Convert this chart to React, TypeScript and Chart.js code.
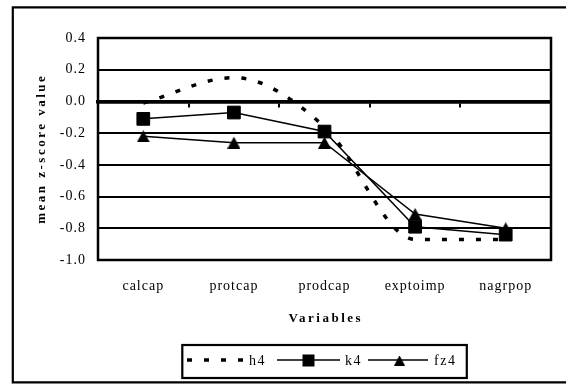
import React, { useEffect, useRef } from 'react';
import { Chart, registerables } from 'chart.js';

Chart.register(...registerables);

// ---- data ----
const categories = ['calcap', 'protcap', 'prodcap', 'exptoimp', 'nagrpop'];
const seriesNames = ['h4', 'k4', 'fz4'];
const h4Values = [-0.01, 0.15, -0.16, -0.87, -0.87];
const k4Values = [-0.11, -0.07, -0.19, -0.79, -0.84];
const fz4Values = [-0.22, -0.26, -0.26, -0.71, -0.8];
const yTicks = [-1.0, -0.8, -0.6, -0.4, -0.2, 0.0, 0.2, 0.4];
const yTickLabels = ['-1.0', '-0.8', '-0.6', '-0.4', '-0.2', '0.0', '0.2', '0.4'];
const xTitle = 'Variables';
const yTitle = 'mean z-score value';

const SERIF = '"Liberation Serif", "Times New Roman", serif';

function makeTriangle(w: number, h: number): HTMLCanvasElement {
  const c = document.createElement('canvas');
  c.width = w;
  c.height = h;
  const g = c.getContext('2d')!;
  g.fillStyle = '#000';
  g.beginPath();
  g.moveTo(w / 2, 0);
  g.lineTo(w, h);
  g.lineTo(0, h);
  g.closePath();
  g.fill();
  return c;
}

export default function App() {
  const ref = useRef<HTMLCanvasElement>(null);

  useEffect(() => {
    document.body.style.margin = '0';
    const canvas = ref.current;
    if (!canvas) return;
    const tri = makeTriangle(13, 12);

    const spacingPlugin = {
      id: 'spacing',
      beforeUpdate(c: any) {
        c.ctx.letterSpacing = '1px';
      },
      beforeDraw(c: any) {
        c.ctx.letterSpacing = '1px';
      },
    };

    const framePlugin = {
      id: 'frame',
      beforeDraw(c: any) {
        const ctx = c.ctx;
        ctx.save();
        ctx.strokeStyle = '#000';
        ctx.lineWidth = 2.2;
        ctx.beginPath();
        ctx.moveTo(568, 7.3);
        ctx.lineTo(12.8, 7.3);
        ctx.lineTo(12.8, 382.3);
        ctx.lineTo(568, 382.3);
        ctx.stroke();
        ctx.restore();
      },
      beforeDatasetsDraw(c: any) {
        const ctx = c.ctx;
        const a = c.chartArea;
        ctx.save();
        ctx.strokeStyle = '#000';
        ctx.lineWidth = 2.5;
        ctx.strokeRect(a.left, a.top, a.right - a.left, a.bottom - a.top);
        ctx.restore();
      },
      afterDraw(c: any) {
        const ctx = c.ctx;
        const a = c.chartArea;
        // axis titles
        ctx.save();
        ctx.fillStyle = '#000';
        ctx.letterSpacing = '2.5px';
        ctx.font = `bold 13px ${SERIF}`;
        ctx.textAlign = 'center';
        ctx.textBaseline = 'middle';
        ctx.fillText(xTitle, (a.left + a.right) / 2 + 1.25, 318.5);
        ctx.translate(42, (a.top + a.bottom) / 2 + 1);
        ctx.rotate(-Math.PI / 2);
        ctx.fillText(yTitle, 1.25, 0);
        ctx.restore();

        // legend
        const ds = c.data.datasets;
        ctx.save();
        ctx.strokeStyle = '#000';
        ctx.lineWidth = 2.2;
        ctx.strokeRect(182.3, 345, 284.5, 33);
        const ly = 360;
        // h4
        ctx.lineWidth = ds[0].borderWidth;
        ctx.setLineDash(ds[0].borderDash);
        ctx.lineCap = 'butt';
        ctx.beginPath();
        ctx.moveTo(187, ly);
        ctx.lineTo(244, ly);
        ctx.stroke();
        ctx.setLineDash([]);
        // k4
        ctx.lineWidth = ds[1].borderWidth;
        ctx.beginPath();
        ctx.moveTo(277, ly);
        ctx.lineTo(340, ly);
        ctx.stroke();
        ctx.fillStyle = '#000';
        ctx.fillRect(308.5 - 6, ly + 0.5 - 6, 12, 12);
        // fz4
        ctx.beginPath();
        ctx.moveTo(368, ly);
        ctx.lineTo(428, ly);
        ctx.stroke();
        ctx.drawImage(tri, 399.5 - 5.5, ly + 0.5 - 5, 11, 10);
        // texts
        ctx.letterSpacing = '1.5px';
        ctx.font = `14px ${SERIF}`;
        ctx.textAlign = 'left';
        ctx.textBaseline = 'middle';
        ctx.fillText(seriesNames[0], 249, 361);
        ctx.fillText(seriesNames[1], 345, 361);
        ctx.fillText(seriesNames[2], 434, 361);
        ctx.restore();
      },
    };

    const chart = new Chart(canvas, {
      type: 'line',
      data: {
        labels: categories,
        datasets: [
          {
            label: seriesNames[0],
            data: h4Values,
            xAxisID: 'x',
            yAxisID: 'y',
            borderColor: '#000',
            borderWidth: 3.5,
            borderDash: [5, 12],
            borderCapStyle: 'butt',
            pointRadius: 0,
            cubicInterpolationMode: 'monotone',
            fill: false,
          },
          {
            label: seriesNames[1],
            data: k4Values,
            xAxisID: 'x',
            yAxisID: 'y',
            borderColor: '#000',
            borderWidth: 1.5,
            tension: 0,
            pointStyle: 'rect',
            pointRadius: 9,
            pointBackgroundColor: '#000',
            pointBorderColor: '#000',
            pointBorderWidth: 1,
            fill: false,
          },
          {
            label: seriesNames[2],
            data: fz4Values,
            xAxisID: 'x',
            yAxisID: 'y',
            borderColor: '#000',
            borderWidth: 1.5,
            tension: 0,
            pointStyle: tri,
            pointRadius: 6,
            pointBackgroundColor: '#000',
            pointBorderColor: '#000',
            fill: false,
          },
        ],
      },
      options: {
        responsive: false,
        animation: false,
        layout: { padding: { left: 0, right: 15, top: 38, bottom: 84 } },
        plugins: {
          legend: { display: false },
          tooltip: { enabled: false },
          title: { display: false },
        },
        scales: {
          x: {
            type: 'category',
            position: 'bottom',
            offset: true,
            afterFit: (s: any) => {
              s.height = 40;
            },
            grid: { display: false, drawTicks: false },
            border: { display: false },
            ticks: {
              color: '#000',
              padding: 18,
              maxRotation: 0,
              autoSkip: false,
              font: { family: SERIF, size: 14 },
            },
          },
          x0: {
            type: 'category',
            position: { y: 0 } as any,
            offset: true,
            grid: {
              offset: true,
              drawOnChartArea: false,
              drawTicks: true,
              tickLength: 4,
              lineWidth: 2,
              color: '#000',
            },
            border: { display: true, width: 3.5, color: '#000' },
            ticks: { display: false },
          },
          y: {
            type: 'linear',
            position: 'left',
            min: -1.0,
            max: 0.4,
            afterFit: (s: any) => {
              s.width = 98;
            },
            afterBuildTicks: (s: any) => {
              s.ticks = yTicks.map((v) => ({ value: v }));
            },
            grid: {
              drawTicks: false,
              color: '#000',
              lineWidth: (ctx: any) =>
                ctx.tick && Math.abs(ctx.tick.value) < 1e-9 ? 3.5 : 2,
            },
            border: { display: false },
            ticks: {
              color: '#000',
              padding: 12,
              font: { family: SERIF, size: 14 },
              callback: (_v: any, i: number) => yTickLabels[i],
            },
          },
        },
      },
      plugins: [spacingPlugin, framePlugin],
    } as any);

    return () => {
      chart.destroy();
    };
  }, []);

  return (
    <canvas
      ref={ref}
      width={566}
      height={384}
      style={{ display: 'block', width: 566, height: 384 }}
    />
  );
}
